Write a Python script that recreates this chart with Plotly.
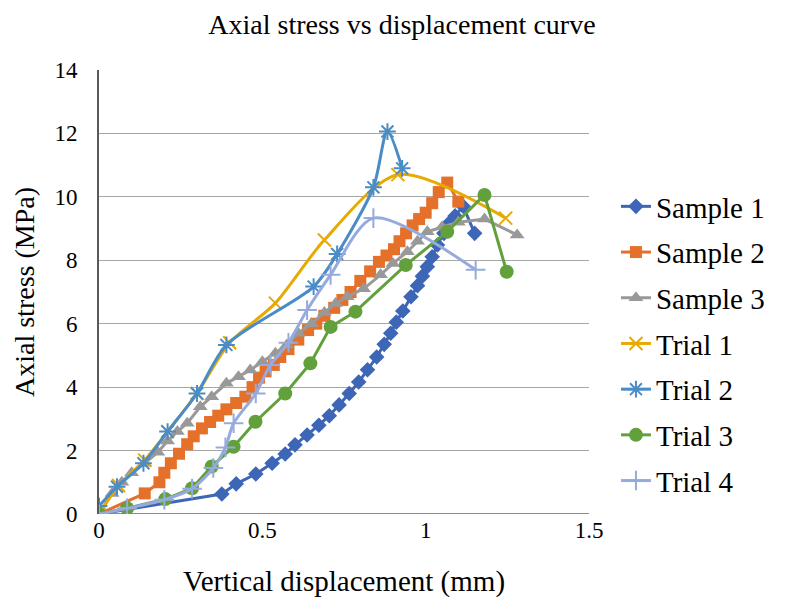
import plotly.graph_objects as go

# ---------------- data ----------------
s1_x = [0, 0.376, 0.42, 0.48, 0.53, 0.57, 0.60, 0.637, 0.673, 0.705, 0.735, 0.766, 0.795, 0.822, 0.85,
        0.873, 0.893, 0.91, 0.93, 0.955, 0.975, 0.99, 1.005, 1.02, 1.036, 1.056, 1.071, 1.09, 1.115, 1.15]
s1_y = [0, 0.63, 0.95, 1.26, 1.6, 1.89, 2.18, 2.49, 2.8, 3.1, 3.44, 3.8, 4.16, 4.55, 4.95,
        5.35, 5.7, 6.05, 6.4, 6.85, 7.2, 7.5, 7.8, 8.11, 8.48, 8.85, 9.17, 9.4, 9.7, 8.85]

s2_x = [0, 0.14, 0.185, 0.2, 0.22, 0.245, 0.27, 0.29, 0.315, 0.34, 0.365, 0.39, 0.42, 0.448, 0.47,
        0.49, 0.51, 0.535, 0.555, 0.58, 0.61, 0.64, 0.665, 0.69, 0.72, 0.745, 0.77, 0.80, 0.83, 0.857,
        0.88, 0.903, 0.92, 0.94, 0.96, 0.98, 1.0, 1.02, 1.04, 1.066, 1.1]
s2_y = [0, 0.65, 1.0, 1.3, 1.6, 1.9, 2.2, 2.45, 2.7, 2.9, 3.1, 3.3, 3.5, 3.7, 4.0,
        4.3, 4.5, 4.7, 4.95, 5.2, 5.5, 5.8, 6.0, 6.25, 6.5, 6.75, 7.0, 7.35, 7.65, 7.95,
        8.15, 8.35, 8.6, 8.85, 9.1, 9.3, 9.5, 9.8, 10.15, 10.45, 9.85]

s3_x = [0, 0.04, 0.07, 0.1, 0.14, 0.18, 0.21, 0.24, 0.27, 0.31, 0.345, 0.39, 0.427, 0.463, 0.5, 0.54,
        0.575, 0.61, 0.65, 0.69, 0.724, 0.76, 0.81, 0.862, 0.9, 0.944, 0.975, 1.005, 1.05, 1.1, 1.18, 1.28]
s3_y = [0, 0.65, 1.0, 1.3, 1.6, 1.95, 2.3, 2.6, 2.86, 3.38, 3.7, 4.12, 4.33, 4.54, 4.8, 5.07,
        5.33, 5.7, 6.0, 6.35, 6.64, 6.85, 7.1, 7.54, 7.9, 8.27, 8.6, 8.9, 9.05, 9.2, 9.3, 8.8]

t1_x = [0, 0.06, 0.14, 0.21, 0.3, 0.4, 0.54, 0.69, 0.915, 1.245]
t1_y = [0, 0.9, 1.7, 2.6, 3.8, 5.4, 6.65, 8.64, 10.7, 9.33]

t2_x = [0, 0.055, 0.136, 0.21, 0.30, 0.39, 0.657, 0.729, 0.84, 0.883, 0.928]
t2_y = [0.25, 0.86, 1.6, 2.6, 3.8, 5.33, 7.17, 8.2, 10.3, 12.06, 10.9]

t3_x = [0, 0.086, 0.203, 0.285, 0.345, 0.412, 0.479, 0.57, 0.647, 0.709, 0.785, 0.939, 1.066, 1.18, 1.248]
t3_y = [0, 0.18, 0.47, 0.81, 1.5, 2.12, 2.91, 3.8, 4.75, 5.9, 6.38, 7.85, 8.9, 10.06, 7.64]

t4_x = [0, 0.086, 0.2, 0.285, 0.35, 0.387, 0.412, 0.48, 0.525, 0.58, 0.637, 0.709, 0.84, 1.153]
t4_y = [0, 0.18, 0.45, 0.8, 1.45, 2.1, 2.86, 3.8, 4.7, 5.4, 6.43, 7.54, 9.33, 7.7]

x_ticks = [0, 0.5, 1, 1.5]
x_tick_labels = ["0", "0.5", "1", "1.5"]
y_ticks = [0, 2, 4, 6, 8, 10, 12, 14]

SERIF = "Liberation Serif, Times New Roman, serif"

fig = go.Figure()

def add(name, x, y, color, symbol, msize, smooth=False, mline=0):
    fig.add_trace(go.Scatter(
        x=x, y=y, name=name, mode="lines+markers", legendgroup=name,
        line=dict(color=color, width=3, shape="spline" if smooth else "linear", smoothing=0.8),
        marker=dict(symbol=symbol, size=msize, color=color,
                    line=dict(color=color, width=mline)),
    ))

add("Sample 1", s1_x, s1_y, "#3D66B6", "diamond", 12)
add("Sample 2", s2_x, s2_y, "#E5702A", "square", 12)
add("Sample 3", s3_x, s3_y, "#999999", "triangle-up", 13)
add("Trial 1", t1_x, t1_y, "#E8AA00", "x-thin-open", 13, smooth=True, mline=2)
add("Trial 2", t2_x, t2_y, "#4A8CC6", "asterisk-open", 14, smooth=True, mline=2)
add("Trial 3", t3_x, t3_y, "#62A03C", "circle", 14)
add("Trial 4", t4_x, t4_y, "#96AADD", "cross-thin-open", 14, smooth=True, mline=2)

fig.update_layout(
    width=804, height=606,
    margin=dict(l=91, r=223, t=62, b=100),
    paper_bgcolor="white", plot_bgcolor="white",
    font=dict(family=SERIF, size=22, color="black"),
    title=dict(text="Axial stress vs displacement curve", x=0.49, xref="container",
               y=0.99, yref="container", yanchor="top", pad=dict(t=0, b=0),
               font=dict(family=SERIF, size=28, color="black")),
    showlegend=True,
    legend=dict(x=1.055, xanchor="left", y=0.75, yanchor="top",
                font=dict(family=SERIF, size=29, color="black"),
                tracegroupgap=5, bgcolor="rgba(0,0,0,0)"),
    xaxis=dict(range=[0, 1.5], tickvals=x_ticks, ticktext=x_tick_labels,
               showgrid=False, zeroline=False, showline=False, automargin=False,
               ticks="", tickfont=dict(family=SERIF, size=23),
               title=dict(text="Vertical displacement (mm)", font=dict(family=SERIF, size=29),
                          standoff=28)),
    yaxis=dict(range=[0, 14], tickvals=y_ticks, showgrid=True, gridcolor="#A6A6A6", gridwidth=1.3,
               zeroline=False, showline=True, linecolor="#595959", linewidth=2, automargin=False,
               ticks="", tickfont=dict(family=SERIF, size=23), ticklabelstandoff=15,
               title=dict(text="Axial stress (MPa)", font=dict(family=SERIF, size=28), standoff=12)),
)
fig.add_hline(y=0, line=dict(color="#8C8C8C", width=2), layer="below")

fig.write_html("out.html")
